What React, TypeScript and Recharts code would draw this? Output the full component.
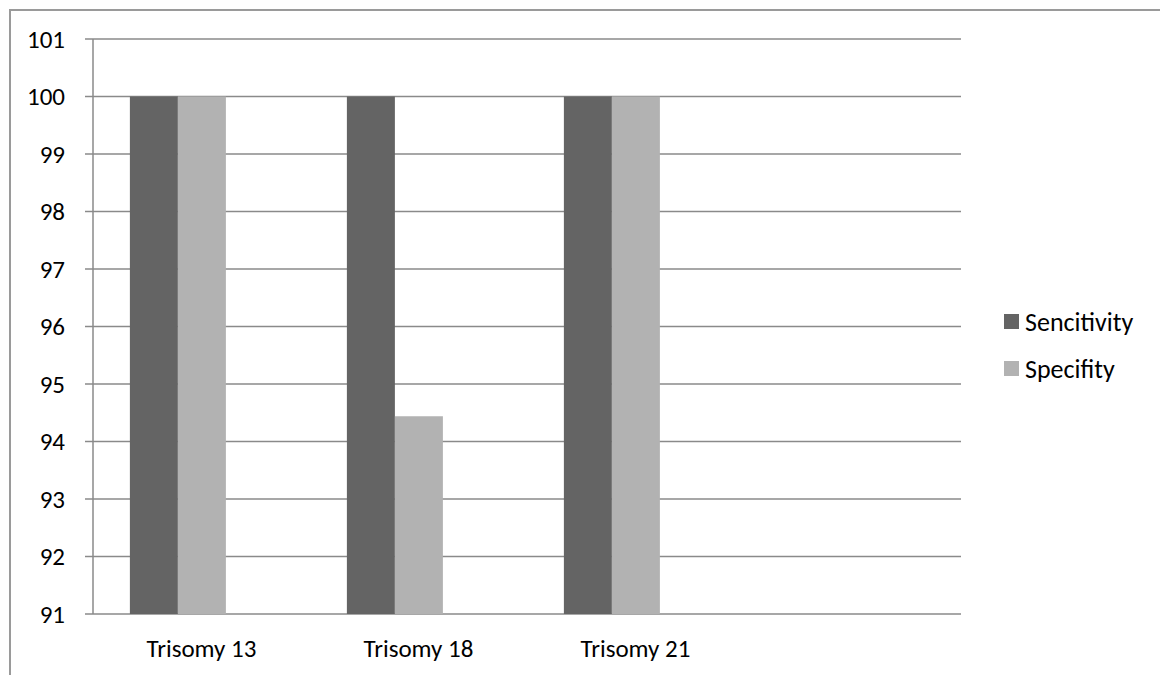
import { BarChart, Bar, XAxis, YAxis, CartesianGrid, Legend } from 'recharts';

const categories = ['Trisomy 13', 'Trisomy 18', 'Trisomy 21', ''];
const sencitivity = [100, 100, 100, null];
const specifity = [100, 94.44, 100, null];
const yTicks = [91, 92, 93, 94, 95, 96, 97, 98, 99, 100, 101];
const edgeTicks = [0, 1, 2, 3, 4];

const data = categories.map((name, i) => ({
  name,
  sencitivity: sencitivity[i],
  specifity: specifity[i],
  blank: null,
}));

const FONT = 'Carlito, Calibri, Lato, sans-serif';
const AXIS_GRAY = '#8a8a8a';

function LegendBox({ payload }: any) {
  const items = (payload || []).filter((p: any) => p.dataKey !== 'blank');
  return (
    <ul style={{ listStyle: 'none', margin: 0, padding: 0 }}>
      {items.map((p: any) => (
        <li
          key={p.dataKey}
          style={{ height: 47, display: 'flex', alignItems: 'center', fontFamily: FONT, fontSize: 26, color: '#000' }}
        >
          <span style={{ width: 15, height: 15, background: p.color, display: 'inline-block', marginRight: 6 }} />
          {p.value}
        </li>
      ))}
    </ul>
  );
}

export default function App() {
  return (
    <div style={{ position: 'absolute', left: 0, top: 0, width: 1160, height: 675, background: '#fff' }}>
      <div
        style={{
          position: 'absolute',
          left: 9,
          top: 9,
          right: 0,
          bottom: 0,
          borderTop: '2px solid #9a9a9a',
          borderLeft: '2px solid #9a9a9a',
        }}
      />
      <BarChart
        width={1160}
        height={675}
        data={data}
        margin={{ top: 39, right: 199, left: 0, bottom: 0 }}
        barCategoryGap="17%"
        barGap={0}
        style={{ position: 'absolute', left: 0, top: 0 }}
      >
        <CartesianGrid vertical={false} stroke={AXIS_GRAY} strokeWidth={1.5} xAxisId="edges" />
        <XAxis
          xAxisId="edges"
          type="number"
          domain={[0, 4]}
          ticks={edgeTicks}
          tick={false}
          height={0}
          tickSize={9}
          axisLine={{ stroke: AXIS_GRAY, strokeWidth: 1.5 }}
          tickLine={{ stroke: AXIS_GRAY, strokeWidth: 1.5 }}
        />
        <XAxis
          xAxisId="cat"
          dataKey="name"
          height={61}
          axisLine={false}
          tickLine={false}
          tickSize={0}
          tickMargin={25}
          tick={{ fill: '#000', fontSize: 25, fontFamily: FONT }}
        />
        <YAxis
          domain={[91, 101]}
          ticks={yTicks}
          width={93}
          tickSize={8}
          tickMargin={20}
          axisLine={{ stroke: AXIS_GRAY, strokeWidth: 1.5 }}
          tickLine={{ stroke: AXIS_GRAY, strokeWidth: 1.5 }}
          tick={{ fill: '#000', fontSize: 25, fontFamily: FONT }}
          allowDataOverflow
        />
        <Legend
          layout="vertical"
          align="center"
          verticalAlign="middle"
          content={<LegendBox />}
          wrapperStyle={{ left: 1004, top: 298, width: 156 }}
        />
        <Bar xAxisId="cat" dataKey="sencitivity" name="Sencitivity" fill="#646464" isAnimationActive={false} />
        <Bar xAxisId="cat" dataKey="specifity" name="Specifity" fill="#b2b2b2" isAnimationActive={false} />
        <Bar xAxisId="cat" dataKey="blank" name="" fill="#000" legendType="none" isAnimationActive={false} />
      </BarChart>
    </div>
  );
}
